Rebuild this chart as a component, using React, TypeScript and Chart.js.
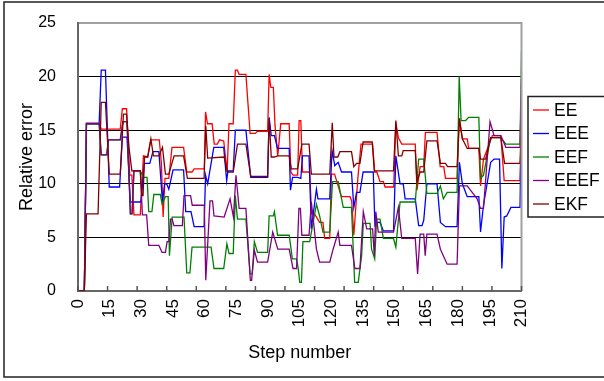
import React, { useEffect, useRef } from "react";
import { Chart, registerables } from "chart.js";
Chart.register(...registerables);

const SERIES_NAMES = ["EE", "EEE", "EEF", "EEEF", "EKF"];
const SERIES_COLORS = ["#ff0000", "#0000ff", "#008000", "#800080", "#800000"];
const X_MIN = 0;
const X_MAX = 210;
const X_LABEL_STEP = 15;
const X_MARK_STEP = 14;
const Y_MIN = 0;
const Y_MAX = 25;
const Y_STEP = 5;

const EE: [number, number][] = [
  [0,0],[3,0],[4,15.6],[10,15.6],[11,15.1],[20,15.1],[21,17.0],[23,17.0],[24.5,10.8],[25.5,10.8],[26.5,7.1],[29.5,7.1],[31,12.6],[33,12.5],[34.5,14.1],[38.5,14.1],[39.5,11.9],[40.3,6.9],[41.2,10.5],[43,10.5],[44.5,13.4],[50,13.4],[51.5,11.1],[54,11.1],[55,11.4],[59.8,11.4],[60.4,16.7],[61.3,15.6],[63.5,15.6],[64.5,13.7],[66,13.7],[67,14.1],[69,14.0],[70.6,11.1],[71.5,15.6],[73.5,15.6],[74.5,20.6],[75.5,20.6],[76.3,20.2],[79.5,20.2],[81.5,14.7],[84,14.7],[85,14.9],[89.8,14.9],[90.5,20.2],[91.3,19.0],[92.5,19.0],[93.3,15.4],[94.6,12.6],[96,15.6],[100,15.6],[100.8,11.1],[101.8,10.8],[104,10.8],[104.7,15.9],[105.5,15.9],[106.3,11.1],[109.7,11.1],[110.6,7.2],[112,7.2],[114.4,6.4],[116,6.4],[116.8,4.9],[119.2,4.9],[120,10.9],[121.5,10.9],[124.7,8.8],[128.8,8.8],[129.6,8.4],[130.6,5.2],[132.5,10.5],[134,13.7],[139.5,13.7],[140.5,11.1],[141.5,11.1],[143,10.2],[144.6,10.2],[145.4,9.7],[149.5,9.7],[150.5,15.7],[151.7,14.3],[153.3,13.7],[159.7,13.7],[160.5,9.4],[162,11.6],[163.7,11.6],[164.5,14.8],[170,14.8],[171.5,11.6],[173.2,11.6],[174,10.5],[179.5,10.5],[180.5,16.1],[182,14.2],[184.3,14.2],[185,13.3],[189.8,13.3],[190.6,9.8],[192,12.3],[194.5,13.6],[196.2,14.5],[200.2,14.5],[201.8,10.3],[209.3,10.3],[210,16.1],
];

const EEE: [number, number][] = [
  [0,0],[3,0],[4,15.6],[10,15.6],[11,20.6],[13,20.6],[14.8,9.7],[19.7,9.7],[21,14.35],[23.2,14.35],[24.8,8.3],[29.8,8.3],[31.4,11.9],[34,11.9],[35.5,13.0],[38.3,13.0],[40,8.3],[41,10.0],[42,10.0],[43,9.5],[45,11.3],[50,11.3],[51,7.4],[53.5,7.4],[55,6.0],[59.7,6.0],[60.4,10.8],[61.4,10.0],[64.3,13.4],[69,13.4],[70.4,10.3],[71,11.2],[73.5,11.2],[74.5,15.0],[79.5,15.0],[81.8,10.6],[89.8,10.6],[90.5,16.2],[91.5,14.5],[93,14.5],[94.5,13.3],[100,13.3],[100.6,9.4],[101.6,10.6],[104,10.6],[105.5,10.5],[106.3,12.6],[109.4,12.6],[110.5,5.8],[112.9,9.5],[113.6,8.6],[119.2,8.6],[120.3,13.1],[121.6,11.7],[123.2,12.0],[124.8,11.1],[129.5,11.1],[130.6,7.8],[131.9,9.2],[133.5,9.2],[135,11.1],[139.8,11.1],[140.6,6.1],[142,6.4],[143,6.4],[144.6,5.6],[149.4,5.6],[150.5,12.6],[152.5,10.0],[154,10.0],[154.9,8.6],[159.7,8.6],[161.3,6.1],[162.9,6.1],[163.7,6.6],[165.2,10.0],[170,10.0],[171.6,6.4],[174,6.0],[179.5,6.0],[180.6,12.0],[182,10.0],[184.3,8.8],[189.8,8.8],[190.6,5.5],[192,8.0],[195.4,12.0],[197,12.3],[199.6,12.3],[200.7,2.1],[201.8,6.9],[203,7.0],[205,7.8],[209.3,7.8],[210,17.0],
];

const EEF: [number, number][] = [
  [0,0],[3,0],[4,15.6],[10,15.6],[11,12.7],[13.6,12.7],[14.4,14.1],[20,14.1],[21.3,15.8],[23.2,15.8],[24.8,7.2],[25.6,7.2],[26.5,11.2],[29.5,11.2],[31,10.6],[32.7,10.6],[33.5,7.4],[35,7.4],[35.9,9.0],[39,9.0],[39.8,8.1],[41.4,8.8],[42.7,8.8],[43.3,3.3],[44.6,6.9],[50.2,6.9],[51.5,1.7],[53,1.7],[54,4.1],[63,4.1],[64.4,2.1],[69,2.1],[70.5,4.4],[71.5,3.5],[73.5,3.5],[74.5,8.9],[75.5,6.7],[79.5,6.7],[81.5,1.6],[82.5,1.6],[83.5,4.6],[85,3.6],[89.8,3.6],[90.5,7.0],[92.5,7.0],[93,7.4],[94.5,5.2],[100,5.2],[101.5,3.0],[103.5,3.0],[104.2,2.2],[105,0.8],[105.8,0.8],[106.5,4.6],[109.7,4.6],[112.9,8.1],[114.4,7.0],[116,5.5],[119.2,5.5],[120.5,10.2],[123.2,10.2],[125.6,7.8],[129.5,7.8],[131,0.8],[132.7,0.8],[134.3,3.3],[135.1,6.3],[138.3,6.3],[139,3.9],[140.5,3.0],[141.4,6.7],[143,6.7],[144.6,4.9],[149.4,4.9],[150.5,4.1],[152.5,8.3],[159.7,8.3],[161.3,12.3],[163.7,12.3],[165.2,9.1],[170,9.1],[171.6,9.8],[173,8.6],[174.8,9.2],[179.5,9.2],[180.5,20.0],[181.4,15.9],[183.5,15.9],[185,16.2],[189.8,16.2],[190.6,10.5],[192,10.8],[195.4,14.3],[200.2,14.3],[202.6,13.7],[209.3,13.7],[210,22.4],
];

const EEEF: [number, number][] = [
  [0,0],[3,0],[4,15.65],[10,15.65],[11,12.7],[13.6,12.7],[14.4,14.1],[20,14.1],[21.3,15.8],[23.2,15.8],[24.8,7.2],[25.6,7.2],[26.5,11.2],[29.5,11.2],[30.5,7.1],[32.5,7.1],[33.5,4.25],[38.3,4.25],[39.8,3.6],[41.4,3.6],[42.2,4.6],[43,4.6],[43.8,6.7],[44.6,6.7],[45.4,6.1],[49.4,6.1],[50.2,8.9],[53.3,8.9],[54.1,8.0],[59.8,8.0],[60.5,1.0],[62.5,8.4],[63.7,8.4],[64.4,7.0],[69.2,6.9],[72,8.6],[73.6,6.9],[74.8,10.8],[76.3,7.7],[79.5,7.7],[81.6,1.0],[82.2,1.0],[83.5,3.8],[85,2.7],[89.8,2.7],[92.2,5.5],[94.6,3.9],[100,3.9],[101.8,2.1],[103.5,2.1],[104.6,7.7],[105.3,7.7],[106,5.2],[109.4,5.2],[110.5,8.3],[112.9,3.9],[114.4,2.7],[119.2,2.7],[120.8,3.9],[123.2,5.5],[124,4.25],[129.5,4.25],[131.1,2.1],[133.5,2.1],[135.1,7.4],[136.7,5.8],[139.5,5.8],[140.3,3.3],[141,7.4],[142.2,5.5],[149.4,5.5],[151.7,7.8],[153.3,4.9],[159.7,4.9],[160.8,1.6],[162,5.3],[163.7,5.3],[164.4,3.3],[165.2,5.3],[170,5.3],[171.6,3.9],[174.8,2.5],[179.5,2.5],[180.6,9.8],[184.3,9.8],[189,8.6],[190.6,7.7],[192,7.7],[195.1,15.8],[197,14.5],[200.2,14.5],[202.6,13.4],[209.3,13.4],[210,19.8],
];

const EKF: [number, number][] = [
  [0,0],[3,0],[4,7.2],[9.5,7.2],[11,17.6],[13,17.6],[14.8,10.9],[20,10.9],[21.5,16.5],[23,16.5],[24.2,13.3],[25.5,11.2],[29.5,11.2],[30.2,8.9],[30.8,8.9],[31.5,12.5],[33,12.5],[34.5,14.2],[35.7,12.6],[38.3,12.6],[40,13.4],[41.4,10.9],[43,10.9],[45.5,12.6],[50,12.6],[51.8,10.5],[59.7,10.5],[60.5,15.4],[61.4,12.4],[69.2,12.5],[70.8,11.1],[73.5,11.1],[75.5,13.7],[79.5,13.7],[81.8,10.7],[89.8,10.7],[90.5,16.1],[91.5,12.5],[93,12.5],[94.6,12.6],[100,12.6],[101,11.4],[104,11.4],[106,13.7],[109.4,13.7],[110.5,10.9],[119.2,10.9],[120.4,15.7],[121.2,12.5],[123,12.5],[124,13.0],[129.5,13.0],[130.6,11.6],[131.9,11.9],[133.5,11.9],[135,13.9],[139.3,13.9],[140.3,11.2],[149.4,11.2],[150.5,15.9],[151.7,12.6],[153.3,12.6],[154,13.1],[159.7,13.1],[160.5,10.2],[162,11.1],[163.7,11.1],[165.2,14.0],[170,14.0],[171.6,11.9],[174,11.9],[175,11.6],[179.5,11.6],[180.6,16.1],[182,14.2],[184.3,13.3],[189.8,13.3],[190.6,12.3],[193,12.3],[195.4,14.3],[200.2,14.3],[202,11.9],[209.3,11.9],[210,16.1],
];

const SERIES = [EE, EEE, EEF, EEEF, EKF];
const FONT = "'Liberation Sans', Arial, sans-serif";

const decorPlugin = {
  id: "decor",
  afterDraw(chart: any) {
    const ctx = chart.ctx;
    const { right, top, bottom } = chart.chartArea;
    const xs = chart.scales.x;
    ctx.save();
    ctx.strokeStyle = "#a0a0a0";
    ctx.lineWidth = 2;
    ctx.beginPath();
    ctx.moveTo(right, top - 1);
    ctx.lineTo(right, bottom);
    ctx.stroke();
    ctx.strokeStyle = "#555";
    ctx.lineWidth = 1.5;
    for (let v = X_MIN; v <= X_MAX; v += X_MARK_STEP) {
      const px = xs.getPixelForValue(v);
      ctx.beginPath();
      ctx.moveTo(px, bottom);
      ctx.lineTo(px, bottom - 5);
      ctx.stroke();
    }
    ctx.strokeStyle = "#222";
    ctx.lineWidth = 1.5;
    ctx.strokeRect(4, 2, 800, 375);
    const lx = 528, ly = 96.5;
    ctx.strokeRect(lx, ly, 300, 120.5);
    ctx.font = `17.5px ${FONT}`;
    ctx.textBaseline = "middle";
    ctx.textAlign = "left";
    SERIES_NAMES.forEach((name, i) => {
      const cy = 110 + i * 23.5;
      ctx.strokeStyle = SERIES_COLORS[i];
      ctx.lineWidth = 1.3;
      ctx.beginPath();
      ctx.moveTo(533, cy);
      ctx.lineTo(549, cy);
      ctx.stroke();
      ctx.fillStyle = "#000";
      ctx.fillText(name, 554, cy + 1);
    });
    ctx.restore();
  },
};

export default function App() {
  const ref = useRef<HTMLCanvasElement | null>(null);
  useEffect(() => {
    document.body.style.margin = "0";
    const canvas = ref.current;
    if (!canvas) return;
    const chart = new Chart(canvas, {
      type: "line",
      data: {
        datasets: SERIES.map((pts, i) => ({
          label: SERIES_NAMES[i],
          data: pts.map(([x, y]) => ({ x, y })),
          borderColor: SERIES_COLORS[i],
          backgroundColor: SERIES_COLORS[i],
          borderWidth: 1.3,
          pointRadius: 0,
          tension: 0,
          fill: false,
          order: 5 - i,
        })),
      },
      options: {
        animation: false,
        responsive: false,
        events: [],
        layout: { padding: { left: 0, right: 82.5, top: 23, bottom: 0 } },
        plugins: { legend: { display: false }, tooltip: { enabled: false } },
        scales: {
          x: {
            type: "linear",
            min: X_MIN,
            max: X_MAX,
            afterFit: (s: any) => { s.height = 90; },
            ticks: {
              stepSize: X_LABEL_STEP,
              autoSkip: false,
              minRotation: 90,
              maxRotation: 90,
              padding: 8,
              color: "#000",
              font: { size: 17, family: FONT },
            },
            grid: { display: true, drawOnChartArea: false, drawTicks: false },
            border: { color: "#666", width: 2 },
            title: {
              display: true,
              text: "Step number",
              color: "#000",
              font: { size: 18, family: FONT },
              padding: { top: 0, bottom: 17 },
            },
          },
          y: {
            min: Y_MIN,
            max: Y_MAX,
            afterFit: (s: any) => {
              s.width = 78;
              s.paddingTop = 0;
              s.paddingBottom = 0;
            },
            ticks: {
              stepSize: Y_STEP,
              padding: 22,
              color: "#000",
              font: { size: 16, family: FONT },
            },
            grid: {
              drawTicks: false,
              color: (c: any) => (c.tick && c.tick.value === Y_MAX ? "#a0a0a0" : "#000"),
              lineWidth: (c: any) => (c.tick && c.tick.value === Y_MAX ? 2 : 1),
            },
            border: { color: "#666", width: 2 },
            title: {
              display: true,
              text: "Relative error",
              color: "#000",
              font: { size: 18, family: FONT },
              padding: { top: 16, bottom: 0 },
            },
          },
        },
      },
      plugins: [decorPlugin],
    });
    return () => chart.destroy();
  }, []);
  return (
    <div style={{ width: 604, height: 381 }}>
      <canvas ref={ref} width={604} height={381} style={{ display: "block" }} />
    </div>
  );
}
